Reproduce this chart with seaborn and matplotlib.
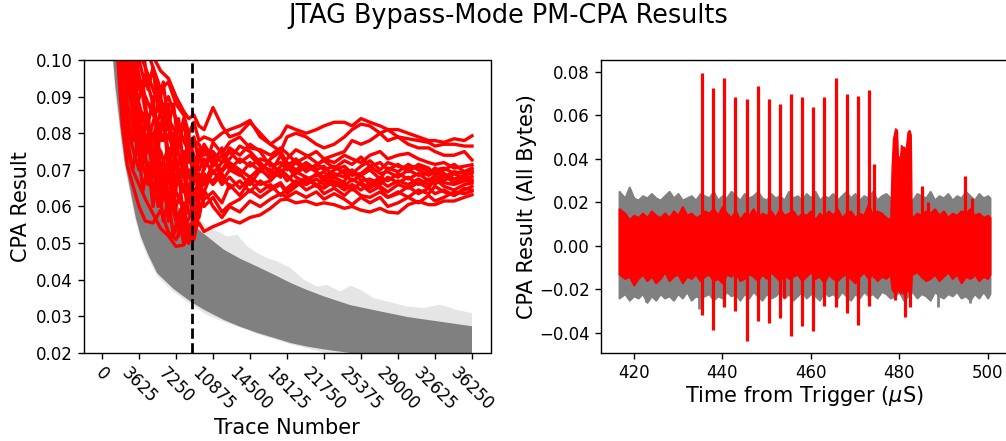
import numpy as np
import pandas as pd
import matplotlib
matplotlib.use('Agg')
import matplotlib.pyplot as plt
import seaborn as sns

# Left panel: CPA result vs trace count
trace_ticks = [0, 3625, 7250, 10875, 14500, 18125, 21750, 25375, 29000, 32625, 36250]
cpa_ticks = [0.02, 0.03, 0.04, 0.05, 0.06, 0.07, 0.08, 0.09, 0.10]
cutoff_trace = 8800

gray_trace = [1000, 1300, 1600, 1850, 2200, 2830, 3300, 3800, 4500, 5400, 7000, 8700, 10000,
              11950, 13500, 15200, 17000, 18500, 20000, 21700, 24300, 27000, 30000, 33000, 36250]
gray_low = [.103, .093, .086, .080, .0725, .0636, .057, .0518, .047, .0418, .0375, .034, .0318,
            .029, .0272, .0255, .024, .0227, .0218, .021, .020, .0188, .0178, .017, .0163]
gray_high = [.165, .150, .135, .125, .112, .097, .088, .082, .075, .069, .0615, .0555, .0525,
             .0482, .0458, .0436, .0412, .0391, .0373, .0355, .0331, .0315, .0298, .0286, .0273]

faint_trace = [1000, 1300, 1600, 1850, 2200, 2830, 3300, 3800, 4500, 5400, 7000, 8700, 10325, 11300, 12280, 13255,
               14230, 15210, 16190, 17160, 18470, 19770, 21070, 22050, 23350, 24330, 25300, 26610, 27910, 29870,
               31490, 33120, 34750, 36250]
faint_low = [.101, .091, .084, .078, .071, .0625, .056, .0508, .046, .041, .0367, .0333, .0303, .0292, .0282, .0272,
             .0263, .0252, .0243, .0235, .0224, .0215, .0206, .0199, .0191, .0186, .0181, .0175, .0169, .0163,
             .0158, .0154, .0151, .0148]
faint_high = [.170, .155, .140, .130, .118, .105, .098, .090, .084, .079, .068, .0585, .0545, .0532, .0518, .0523,
              .0491, .0473, .0459, .045, .0432, .040, .0382, .0386, .0368, .0384, .0373, .035, .0341, .0327,
              .0323, .0332, .0318, .0309]

red_trace = [1500, 2000, 2500, 3000, 3625, 4250, 5000, 5750, 6500, 7250, 8000, 8500, 9000, 9500, 10000,
             10875, 11750, 12500, 13500, 14500, 15500, 16500, 17500, 18125, 19000, 20000, 21000, 21750,
             22750, 23750, 24500, 25375, 26250, 27250, 28000, 29000, 30000, 31000, 32000, 32625, 33500,
             34500, 35500, 36250]
red_01 = [.200, .170, .150, .135, .122, .110, .101, .097, .095, .090, .086, .084, .085, .082, .081, .087, .082, .079, .080, .083, .080, .077, .079, .082, .081, .080, .081, .082, .083, .083, .082, .084, .083, .082, .081, .081, .080, .079, .078, .078, .0775, .0785, .078, .0793]
red_02 = [.190, .160, .135, .120, .110, .104, .098, .092, .094, .088, .085, .080, .083, .078, .079, .078, .080, .081, .082, .0835, .079, .077, .075, .079, .080, .079, .077, .076, .077, .079, .081, .0825, .082, .080, .081, .079, .0785, .078, .0775, .0765, .077, .077, .0765, .0765]
red_03 = [.170, .150, .128, .112, .102, .098, .092, .086, .090, .084, .078, .075, .078, .077, .074, .075, .072, .076, .074, .077, .075, .071, .072, .070, .072, .0735, .075, .073, .074, .075, .078, .077, .078, .080, .078, .079, .077, .076, .076, .075, .074, .074, .075, .0727]
red_04 = [.160, .140, .120, .108, .100, .093, .097, .089, .084, .080, .083, .076, .079, .072, .076, .071, .074, .070, .073, .071, .073, .072, .069, .071, .073, .070, .071, .073, .072, .074, .073, .072, .074, .075, .073, .074, .0745, .073, .072, .0715, .072, .0705, .071, .0714]
red_05 = [.150, .130, .112, .100, .094, .090, .085, .082, .079, .075, .072, .078, .074, .070, .073, .069, .072, .075, .072, .074, .071, .070, .068, .072, .069, .071, .0695, .068, .070, .071, .069, .071, .0725, .070, .072, .071, .0705, .071, .0695, .070, .0705, .069, .0695, .070]
red_06 = [.145, .125, .108, .098, .092, .096, .088, .078, .082, .070, .075, .068, .072, .065, .071, .074, .067, .070, .0685, .072, .0695, .073, .075, .072, .070, .072, .070, .071, .068, .070, .0685, .069, .071, .069, .0695, .068, .070, .0685, .069, .0705, .069, .0675, .0685, .0691]
red_07 = [.135, .118, .102, .095, .088, .082, .079, .086, .075, .078, .068, .064, .067, .069, .066, .072, .076, .071, .069, .066, .070, .068, .071, .073, .0755, .074, .072, .070, .071, .069, .067, .0685, .066, .068, .067, .069, .0675, .069, .067, .0685, .067, .069, .0675, .0682]
red_08 = [.125, .110, .098, .090, .082, .086, .074, .070, .076, .067, .072, .061, .065, .062, .068, .067, .070, .073, .0765, .075, .072, .069, .074, .071, .068, .0665, .069, .067, .069, .068, .070, .067, .0675, .066, .068, .0665, .068, .066, .0675, .066, .0685, .0665, .068, .0673]
red_09 = [.118, .105, .094, .086, .078, .074, .080, .066, .072, .060, .066, .058, .060, .057, .064, .070, .066, .068, .065, .068, .066, .067, .070, .0685, .066, .068, .066, .065, .067, .0655, .0675, .066, .064, .0655, .064, .066, .065, .0665, .065, .0675, .0655, .0645, .066, .0664]
red_10 = [.112, .100, .088, .082, .074, .069, .064, .072, .064, .056, .061, .052, .056, .059, .062, .064, .061, .066, .063, .067, .064, .066, .063, .065, .067, .0645, .066, .0635, .065, .063, .065, .063, .0625, .064, .0625, .064, .0625, .0645, .0635, .0655, .064, .063, .065, .0645]
red_11 = [.108, .092, .082, .076, .070, .073, .066, .060, .068, .058, .054, .050, .0535, .0555, .0532, .0545, .0555, .0565, .0555, .0570, .0577, .0595, .0618, .062, .061, .0615, .0605, .061, .0605, .0595, .060, .059, .0585, .0595, .0585, .0582, .0605, .0614, .0605, .0605, .0615, .0615, .0625, .0632]
red_12 = [.105, .088, .076, .070, .066, .062, .058, .054, .052, .0491, .0495, .052, .058, .062, .0645, .060, .057, .060, .0585, .0615, .060, .062, .0635, .0625, .064, .0625, .064, .062, .0635, .062, .0605, .0625, .061, .0625, .060, .061, .0625, .061, .063, .0615, .0625, .064, .0635, .0642]
red_13 = [.102, .082, .071, .066, .060, .056, .0555, .059, .053, .051, .055, .0565, .061, .066, .069, .066, .069, .065, .067, .064, .067, .065, .0665, .064, .0665, .066, .0675, .066, .068, .0665, .0645, .0665, .065, .067, .0655, .067, .066, .0675, .066, .0675, .0665, .066, .067, .0668]
red_14 = [.128, .112, .098, .088, .080, .075, .083, .090, .074, .064, .059, .063, .070, .073, .077, .073, .0695, .072, .070, .068, .0705, .0675, .0695, .067, .0695, .068, .0655, .0675, .0655, .067, .0695, .0685, .070, .0675, .0705, .0695, .0715, .070, .0685, .0695, .068, .0695, .069, .0695]
red_15 = [.140, .122, .104, .092, .085, .078, .072, .068, .062, .0665, .0705, .0745, .0685, .0755, .070, .0775, .0745, .0775, .079, .076, .0755, .074, .076, .0745, .072, .0695, .0715, .0725, .0705, .0725, .0715, .0735, .071, .072, .070, .0715, .0695, .0715, .0705, .0685, .070, .0715, .0695, .0705]
red_16 = [.155, .135, .116, .104, .096, .086, .078, .075, .068, .073, .064, .070, .062, .068, .060, .0625, .0585, .0605, .062, .0645, .0625, .0645, .066, .0635, .0655, .0675, .0685, .0695, .0665, .0645, .066, .0645, .0665, .065, .0625, .0635, .0655, .0635, .065, .0635, .0645, .063, .0645, .0655]
red_series = [red_01, red_02, red_03, red_04, red_05, red_06, red_07, red_08,
              red_09, red_10, red_11, red_12, red_13, red_14, red_15, red_16]

# busy part of the red traces before they settle
early_trace = [1500, 2000, 2500, 3000, 3500, 4000, 4500, 5000, 5500, 6000, 6500, 7000, 7500, 8000, 8500, 9000, 9500]
early_01 = [.125, .100, .090, .098, .088, .094, .082, .090, .076, .086, .070, .080, .066, .075, .062, .072, .070]
early_02 = [.115, .092, .084, .078, .085, .072, .080, .068, .078, .062, .074, .060, .070, .056, .066, .052, .062]
early_03 = [.135, .108, .095, .088, .076, .082, .066, .074, .060, .068, .056, .064, .052, .060, .050, .056, .064]
early_04 = [.150, .120, .104, .096, .090, .078, .085, .072, .082, .078, .088, .074, .084, .070, .080, .066, .074]
early_05 = [.110, .088, .078, .070, .078, .064, .072, .060, .068, .056, .062, .052, .058, .050, .055, .051, .058]
early_06 = [.170, .140, .118, .105, .098, .104, .092, .098, .086, .094, .082, .088, .076, .084, .072, .078, .074]
early_series = [early_01, early_02, early_03, early_04, early_05, early_06]

# Right panel: correlation envelope over time, values in thousandths
time_us = [416.7] + list(range(418, 501)) + [500.5]
gray_top_milli = [25, 22, 27, 22, 21, 23, 22, 24, 22, 21, 23, 25, 22, 24, 21, 22, 23, 21, 24, 23,
                  22, 25, 21, 23, 22, 25, 23, 21, 24, 22, 23, 25, 22, 21, 24, 22, 23, 21, 25, 22,
                  23, 21, 24, 22, 25, 21, 23, 22, 24, 21, 23, 25, 22, 24, 21, 23, 22, 25, 21, 23,
                  24, 22, 21, 23, 25, 22, 21, 24, 23, 22, 25, 21, 23, 22, 24, 21, 23, 22, 25, 23,
                  21, 24, 22, 23, 22]
gray_bot_milli = [-24, -22, -25, -23, -24, -22, -26, -23, -25, -22, -24, -23, -25, -22, -24, -21, -25, -23, -24, -23,
                  -22, -25, -23, -24, -21, -23, -22, -25, -22, -24, -21, -23, -25, -22, -24, -23, -21, -24, -22, -25,
                  -23, -21, -24, -22, -23, -25, -21, -23, -22, -24, -21, -23, -25, -22, -24, -21, -23, -22, -24, -21,
                  -22, -24, -23, -21, -25, -23, -21, -24, -22, -23, -25, -21, -23, -24, -22, -23, -21, -24, -23, -25,
                  -22, -24, -21, -24, -22]
red_top_milli = [17, 15, 12, 14, 13, 15, 13, 16, 14, 13, 15, 13, 16, 14, 18, 14, 15, 13, 14, 16,
                 15, 17, 14, 18, 15, 13, 16, 12, 15, 14, 17, 13, 15, 14, 16, 13, 17, 14, 15, 16,
                 13, 15, 14, 16, 12, 15, 13, 16, 14, 17, 13, 15, 16, 13, 15, 14, 19, 14, 16, 15,
                 13, 12, 15, 13, 14, 16, 13, 15, 14, 16, 15, 17, 14, 16, 13, 15, 14, 16, 15, 17,
                 14, 15, 13, 14, 13]
red_bot_milli = [-13, -15, -14, -18, -15, -13, -16, -14, -17, -15, -12, -16, -14, -13, -17, -14, -15, -13, -16, -14,
                 -13, -16, -15, -17, -13, -14, -12, -16, -15, -13, -14, -16, -13, -15, -12, -14, -16, -13, -15, -14,
                 -13, -16, -14, -12, -15, -14, -17, -13, -15, -16, -14, -13, -15, -17, -14, -12, -15, -13, -16, -14,
                 -15, -13, -16, -17, -14, -15, -13, -12, -14, -16, -15, -13, -16, -14, -12, -15, -13, -17, -14, -15,
                 -13, -16, -14, -15, -13]

spike_time = [435.35, 437.9, 440.4, 442.95, 445.5, 448.0, 450.55, 453.1, 454.0, 455.5, 458.1, 460.6, 463.1,
              465.7, 468.1, 470.7, 473.1, 474.4, 479.1, 481.2, 482.4, 485.2, 486.5, 494.8, 496.5]
spike_top = [.0795, .0723, .0769, .0685, .0673, .0734, .0673, .0654, .010, .0697, .0683, .0636, .0685,
             .0772, .0699, .0688, .0716, .0375, .010, .010, .010, .0276, .020, .032, .0218]
spike_bot = [-.032, -.0385, -.028, -.030, -.0437, -.0345, -.0357, -.0331, -.024, -.0415, -.0368, -.0391, -.0277,
             -.028, -.0311, -.0365, -.0277, -.015, -.025, -.0326, -.028, -.015, -.015, -.015, -.015]
gray_spike_time = [434.75, 422.8, 488.8, 495.9]
gray_spike_bot = [-.029, -.026, -.028, -.0265]

bump_time = [478.0, 478.3, 478.6, 479.1, 479.5, 479.7, 480.2, 480.4, 480.8, 481.1, 481.4, 481.9, 482.3, 482.6, 482.7, 482.8]
bump_top = [.014, .0363, .0493, .054, .0532, .041, .041, .0463, .0455, .0455, .043, .0525, .0532, .0512, .035, .014]
bump_bot = [-.015, -.020, -.021, -.022, -.021, -.020, -.022, -.021, -.022, -.021, -.022, -.020, -.022, -.021, -.020, -.015]

W, H = 1006, 441
fig = plt.figure(figsize=(W / 100, H / 100), dpi=100)
ax1 = fig.add_axes([83.5 / W, 1 - 353 / H, 407 / W, 293 / H])
ax2 = fig.add_axes([600.5 / W, 1 - 353 / H, 408 / W, 293 / H])

# Left: gray key guesses as a band, correct key traces in red
ax1.fill_between(faint_trace, faint_low, faint_high, color='gray', alpha=0.2, lw=0)
ax1.fill_between(gray_trace, gray_low, gray_high, color='gray', lw=0)
for series in red_series:
    sns.lineplot(x=red_trace, y=series, ax=ax1, color='red', linewidth=2.4, errorbar=None)
for series in early_series:
    sns.lineplot(x=early_trace, y=series, ax=ax1, color='red', linewidth=2.4, errorbar=None)
ax1.axvline(cutoff_trace, color='k', linestyle='--', linewidth=2)
ax1.set_xlim(-1812.5, 38062.5)
ax1.set_ylim(0.02, 0.10)
ax1.set_xticks(trace_ticks)
ax1.set_xticklabels(trace_ticks, rotation=-45)
ax1.set_yticks(cpa_ticks)
ax1.set_xlabel('Trace Number', fontsize=15, labelpad=2.5)
ax1.set_ylabel('CPA Result', fontsize=15, labelpad=3.5)

# Right: gray envelope, red correct key trace
gray_top = np.array(gray_top_milli) / 1000
gray_bot = np.array(gray_bot_milli) / 1000
red_top = np.array(red_top_milli) / 1000
red_bot = np.array(red_bot_milli) / 1000
ax2.fill_between(time_us, gray_bot, gray_top, color='gray', lw=1.5)
ax2.vlines(gray_spike_time, gray_spike_bot, 0, color='gray', linewidth=2, zorder=1)
ax2.fill_between(time_us, red_bot, red_top, color='red', lw=1.5, zorder=1.5)
ax2.fill_between(bump_time, bump_bot, bump_top, color='red', lw=1, zorder=1.5)
ax2.vlines(spike_time, spike_bot, spike_top, color='red', linewidth=2.3)
ax2.set_xlim(412.5, 504.7)
ax2.set_ylim(-0.0493, 0.0854)
ax2.set_xticks([420, 440, 460, 480, 500])
ax2.set_yticks([-0.04, -0.02, 0.0, 0.02, 0.04, 0.06, 0.08])
ax2.set_xlabel('Time from Trigger ($\\mu$S)', fontsize=15, labelpad=1.5)
ax2.set_ylabel('CPA Result (All Bytes)', fontsize=15, labelpad=1)

for ax in (ax1, ax2):
    ax.tick_params(labelsize=12, length=4.4, width=1)
    for spine in ax.spines.values():
        spine.set_linewidth(1.0)

fig.text(508 / W, 1 - 16 / H, 'JTAG Bypass-Mode PM-CPA Results', fontsize=18.4, ha='center', va='center')

fig.savefig('out.png', dpi=100)
